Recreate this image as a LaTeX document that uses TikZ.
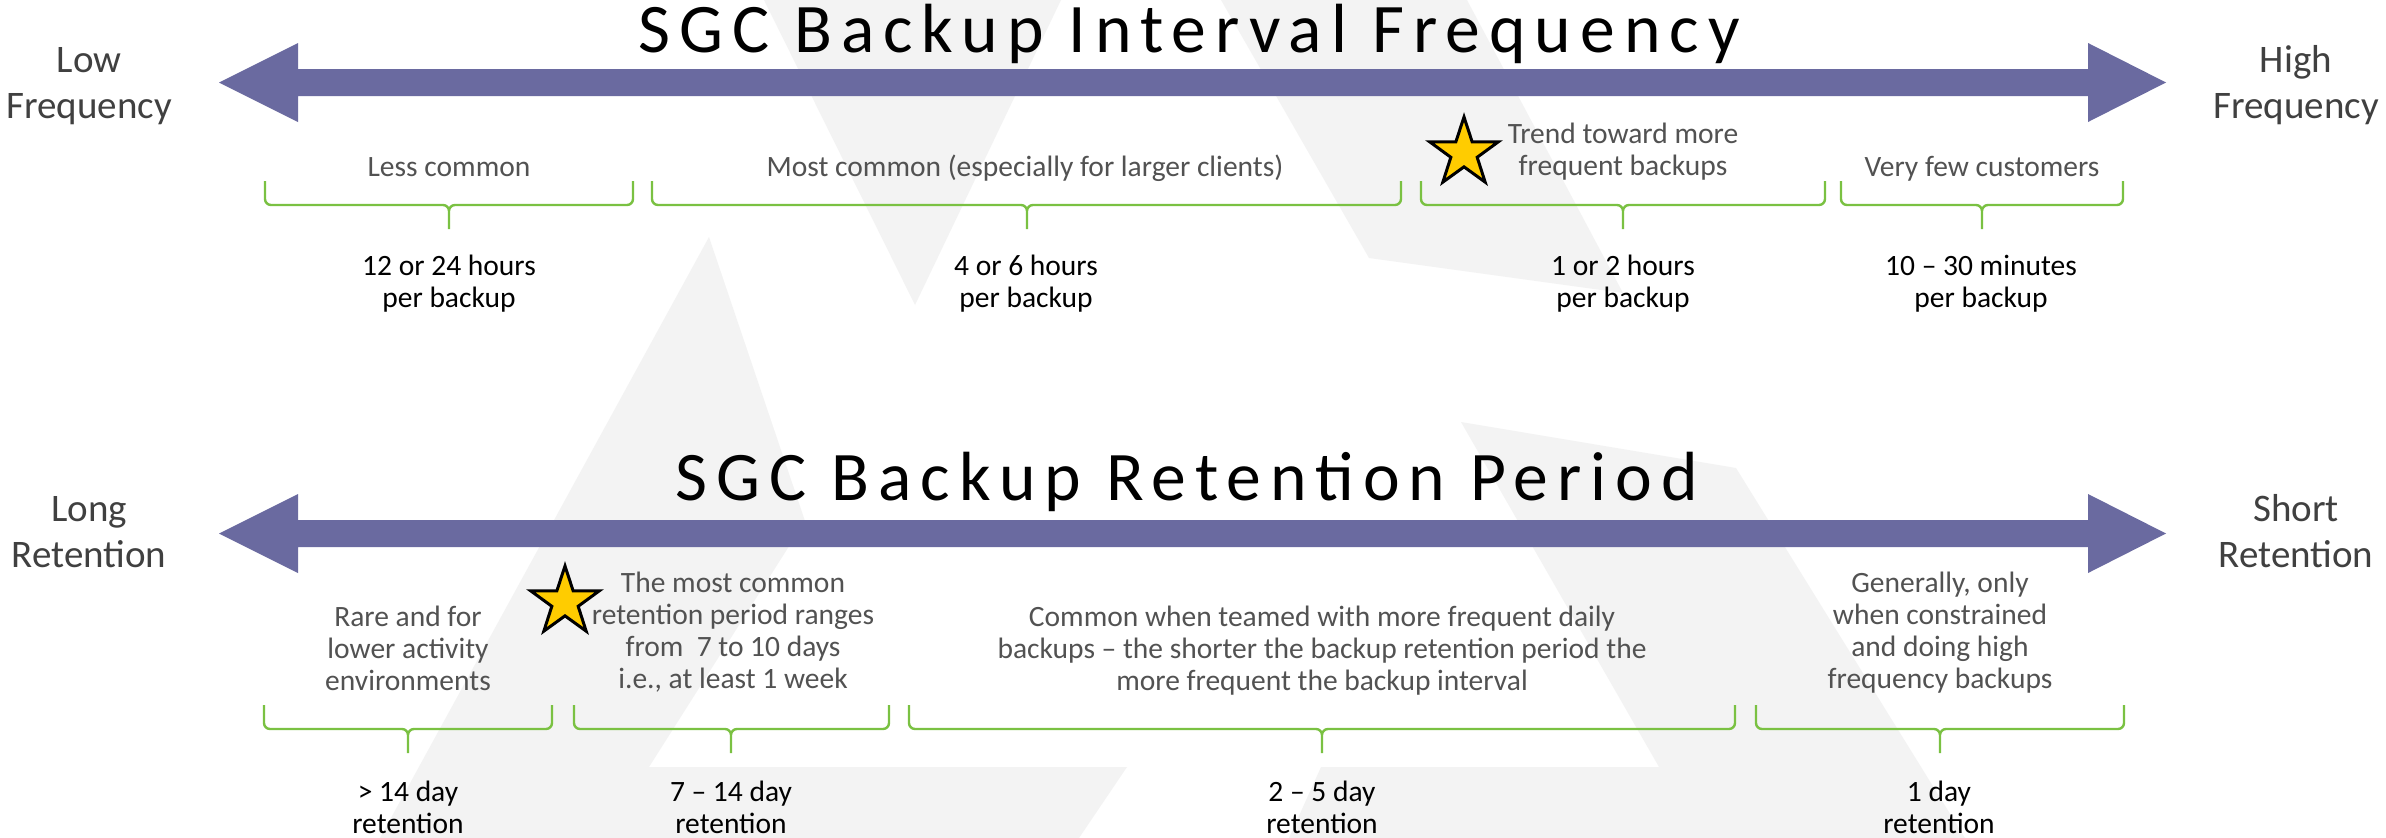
\documentclass[tikz,border=0pt]{standalone}
\usepackage{fontspec}
\setmainfont{Carlito}
\newfontfamily\headfont[LetterSpace=13]{Carlito}
\usepackage{tikz}
\usetikzlibrary{calc,positioning,shapes.geometric}
\definecolor{axisblue}{RGB}{106,106,160}
\definecolor{bracegreen}{RGB}{122,193,66}
\definecolor{stargold}{RGB}{255,204,0}
\definecolor{logogray}{RGB}{243,243,243}

\begin{document}
\begin{tikzpicture}[
  x=1pt,
  y=-1pt,
  logo/.style={
    fill=logogray
  },
  axis/.style={
    fill=axisblue
  },
  bracket/.style={
    draw=bracegreen,
    line width=2.4pt,
    rounded corners=6pt
  },
  heading/.style={
    anchor=base,
    inner sep=0pt,
    font=\headfont\fontsize{69.6}{80}\selectfont
  },
  ends/.style={
    anchor=base,
    inner sep=0pt,
    align=center,
    text=black!75,
    font=\fontsize{39}{46}\selectfont
  },
  note/.style={
    anchor=base,
    inner sep=0pt,
    align=center,
    text=black!68,
    font=\fontsize{29.5}{31.7}\selectfont
  },
  value/.style={
    note,
    text=black
  },
  goldstar/.style={
    star,
    star points=5,
    star point ratio=2.6,
    minimum size=72pt,
    inner sep=0pt,
    fill=stargold,
    draw=black,
    line width=3pt
  }
]

\path[use as bounding box, fill=white] (0,0) rectangle (2386,838);

% Faint logo behind everything
\fill[logo] (764,0) -- (1061,0) -- (915,305) -- cycle;
\fill[logo] (1221,0) -- (1467,0) -- (1623,293) -- (1369,258) -- cycle;
\fill[logo] (709,237) -- (805,521) -- (649,767) -- (1127,767)
  -- (1079,838) -- (380,838) -- cycle;
\fill[logo] (1461,422) -- (1736,468) -- (1965,838) -- (1289,838)
  -- (1321,767) -- (1659,767) -- cycle;

% Interval frequency scale
% (multi-line nodes sit on the baseline of their last line)
\node[heading] (freqtitle) at (1189,52) {SGC Backup Interval Frequency};

\coordinate (freqlow) at (219,82.5);
\coordinate (freqhigh) at (2166,82.5);
\fill[axis]
  (freqlow) -- ++(79,-39.5) -- ++(0,26)
  -- ($(freqhigh)+(-78,-13.5)$) -- ++(0,-26)
  -- (freqhigh) -- ++(-78,39.5) -- ++(0,-26)
  -- ($(freqlow)+(79,13.5)$) -- ++(0,26) -- cycle;

\node[ends] (low) at (89,118) {Low\\Frequency};
\node[ends] (high) at (2296,118) {High\\Frequency};

\node[note] (less) at (449,176) {Less common};
\node[note] (most) at (1025,176)
  {Most common (especially for larger clients)};
\node[note] (trend) at (1623,175) {Trend toward more\\frequent backups};
\node[note] (few) at (1982,176) {Very few customers};

\node[goldstar] (trendstar) at (1464,153) {};

\draw[bracket] (265,181) |- (449,205) -- (449,229)
  (633,181) |- (449,205) -- (449,229);
\draw[bracket] (652,181) |- (1027,205) -- (1027,229)
  (1401,181) |- (1027,205) -- (1027,229);
\draw[bracket] (1421,181) |- (1623,205) -- (1623,229)
  (1825,181) |- (1623,205) -- (1623,229);
\draw[bracket] (1841,181) |- (1982,205) -- (1982,229)
  (2123,181) |- (1982,205) -- (1982,229);

\node[value] (h24) at (449,307) {12 or 24 hours\\per backup};
\node[value] (h6) at (1026,307) {4 or 6 hours\\per backup};
\node[value] (h2) at (1623,307) {1 or 2 hours\\per backup};
\node[value] (m30) at (1981,307) {10 – 30 minutes\\per backup};

% Retention period scale
\node[heading] (rettitle) at (1187,500) {SGC Backup Retention Period};

\coordinate (retlong) at (219,533.5);
\coordinate (retshort) at (2166,533.5);
\fill[axis]
  (retlong) -- ++(79,-39.5) -- ++(0,26)
  -- ($(retshort)+(-78,-13.5)$) -- ++(0,-26)
  -- (retshort) -- ++(-78,39.5) -- ++(0,-26)
  -- ($(retlong)+(79,13.5)$) -- ++(0,26) -- cycle;

\node[ends] (long) at (89,567) {Long\\Retention};
\node[ends] (short) at (2296,567) {Short\\Retention};

\node[note] (rare) at (408,690) {Rare and for\\lower activity\\environments};
\node[note] (usual) at (733,688)
  {The most common\\retention period ranges\\from\ \ 7 to 10 days\\i.e., at least 1 week};
\node[note] (teamed) at (1322,690)
  {Common when teamed with more frequent daily\\backups – the shorter the backup retention period the\\more frequent the backup interval};
\node[note] (general) at (1940,688)
  {Generally, only\\when constrained\\and doing high\\frequency backups};

\node[goldstar] (usualstar) at (565,602) {};

\draw[bracket] (264,705) |- (408,729) -- (408,753)
  (552,705) |- (408,729) -- (408,753);
\draw[bracket] (574,705) |- (731,729) -- (731,753)
  (889,705) |- (731,729) -- (731,753);
\draw[bracket] (909,705) |- (1322,729) -- (1322,753)
  (1735,705) |- (1322,729) -- (1322,753);
\draw[bracket] (1756,705) |- (1940,729) -- (1940,753)
  (2124,705) |- (1940,729) -- (1940,753);

\node[value] (d14) at (408,833) {> 14 day\\retention};
\node[value] (d7) at (731,833) {7 – 14 day\\retention};
\node[value] (d5) at (1322,833) {2 – 5 day\\retention};
\node[value] (d1) at (1939,833) {1 day\\retention};

\end{tikzpicture}
\end{document}
